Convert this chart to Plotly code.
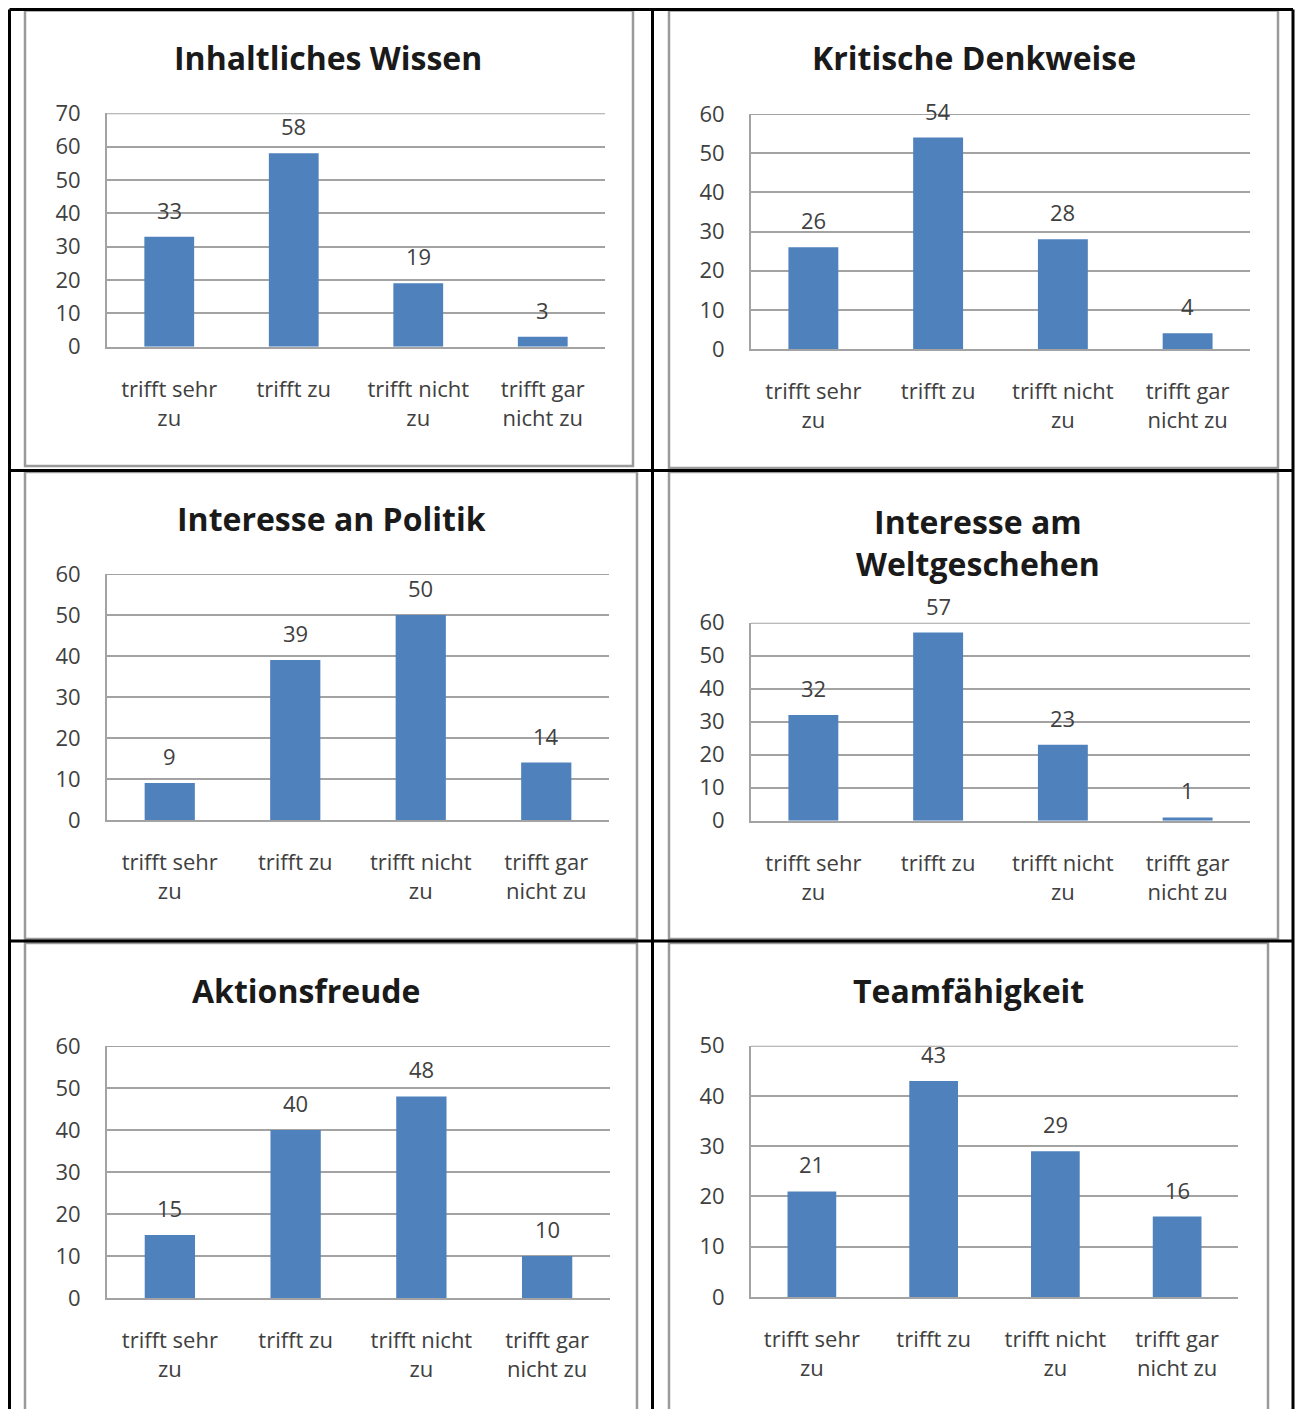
import plotly.graph_objects as go

# Page size in pixels
W, H = 1295, 1409

# Answer categories (shared by all six questions)
categories = ["trifft sehr<br>zu", "trifft zu", "trifft nicht<br>zu", "trifft gar<br>nicht zu"]

# Question titles
titles = [
    "Inhaltliches Wissen",
    "Kritische Denkweise",
    "Interesse an Politik",
    "Interesse am<br>Weltgeschehen",
    "Aktionsfreude",
    "Teamfähigkeit",
]

# Number of answers per category
values_inhalt = [33, 58, 19, 3]
values_kritisch = [26, 54, 28, 4]
values_politik = [9, 39, 50, 14]
values_welt = [32, 57, 23, 1]
values_aktion = [15, 40, 48, 10]
values_team = [21, 43, 29, 16]

# Upper end of each value axis
y_max = [70, 60, 60, 60, 60, 50]

series = [values_inhalt, values_kritisch, values_politik, values_welt, values_aktion, values_team]

# Layout (pixel positions): plot area (x0, x1, y_top, y_bottom),
# chart frame (x0, y0, x1, y1) and title centre (x, y)
plot_px = [
    (107, 605, 113.3, 346.7),
    (751, 1250, 114, 349),
    (107, 609, 574, 820),
    (751, 1250, 622.7, 820.7),
    (107, 610, 1046, 1298),
    (751, 1238, 1045.7, 1297),
]
frame_px = [
    (25, 10.5, 633, 466),
    (669, 10.5, 1278, 468),
    (25, 472, 637, 939),
    (669, 472, 1278, 939),
    (25, 943, 637, 1430),
    (669, 943, 1268, 1430),
]
title_px = [(328, 57), (974, 57), (331, 518), (978, 542), (306, 990), (968, 990)]

BAR = "#4f81bd"
GRID = "#a3a3a3"
TXT = "#404040"
FONT = "Open Sans"


def fx(x):
    return x / W


def fy(y):
    return 1 - y / H


fig = go.Figure()
layout = dict(
    width=W,
    height=H,
    margin=dict(l=0, r=0, t=0, b=0, pad=0, autoexpand=False),
    paper_bgcolor="white",
    plot_bgcolor="white",
    showlegend=False,
    bargap=0.6,
    font=dict(family=FONT, size=22, color=TXT),
)

annotations = []
shapes = []

for i, vals in enumerate(series):
    n = "" if i == 0 else str(i + 1)
    xa, ya = "x" + n, "y" + n
    fig.add_trace(go.Bar(x=categories, y=vals, marker=dict(color=BAR, line=dict(width=0)),
                         xaxis=xa, yaxis=ya, hoverinfo="skip"))
    x0, x1, yt, yb = plot_px[i]
    layout["xaxis" + n] = dict(
        domain=[fx(x0), fx(x1)], anchor=ya, type="category",
        showline=True, linecolor=GRID, linewidth=2, showgrid=False, ticks="",
        tickfont=dict(family=FONT, size=22, color=TXT), ticklabelstandoff=22,
        automargin=False, fixedrange=True,
    )
    layout["yaxis" + n] = dict(
        domain=[fy(yb), fy(yt)], anchor=xa, range=[0, y_max[i]], dtick=10,
        showline=True, linecolor=GRID, linewidth=2, showgrid=True, gridcolor=GRID,
        gridwidth=2, zeroline=False, ticks="",
        tickfont=dict(family=FONT, size=22, color=TXT), ticklabelstandoff=20,
        automargin=False, fixedrange=True,
    )
    # top gridline at the axis maximum
    shapes.append(dict(type="line", xref=xa + " domain", yref=ya, x0=0, x1=1,
                       y0=y_max[i], y1=y_max[i], line=dict(color=GRID, width=2)))
    # value labels above the bars
    for c, v in zip(categories, vals):
        annotations.append(dict(x=c, y=v, xref=xa, yref=ya, text=str(v), showarrow=False,
                                yanchor="middle", yshift=27,
                                font=dict(family=FONT, size=22, color=TXT)))
    # chart title
    tx, ty = title_px[i]
    annotations.append(dict(x=fx(tx), y=fy(ty), xref="paper", yref="paper", text=titles[i],
                            showarrow=False, xanchor="center", yanchor="middle",
                            font=dict(family=FONT, size=32, color="#1a1a1a", weight="bold")))
    # chart frame
    bx0, by0, bx1, by1 = frame_px[i]
    shapes.append(dict(type="rect", xref="paper", yref="paper",
                       x0=fx(bx0), x1=fx(bx1), y0=fy(by1), y1=fy(by0),
                       line=dict(color="#9a9a9a", width=2.5), layer="below"))

# table grid lines
for x in (9.5, 652.5, 1293):
    shapes.append(dict(type="line", xref="paper", yref="paper",
                       x0=fx(x), x1=fx(x), y0=fy(9.5), y1=fy(1430),
                       line=dict(color="black", width=3)))
for y in (9.5, 470.5, 941):
    shapes.append(dict(type="line", xref="paper", yref="paper",
                       x0=fx(9.5), x1=fx(1293), y0=fy(y), y1=fy(y),
                       line=dict(color="black", width=3)))

layout["annotations"] = annotations
layout["shapes"] = shapes
fig.update_layout(**layout)
fig.write_html("out.html")
